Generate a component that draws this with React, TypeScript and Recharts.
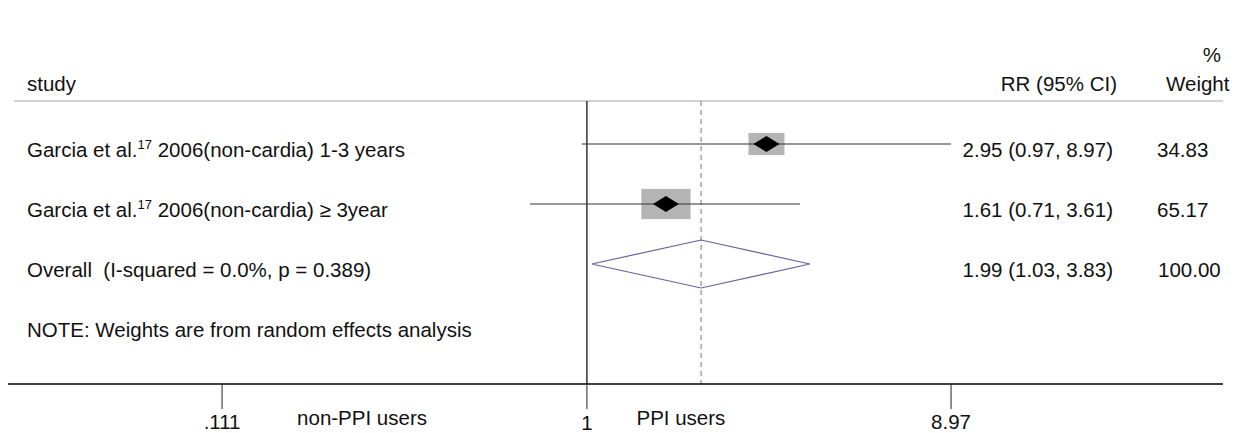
import React from "react";
import {ComposedChart, ReferenceLine, Scatter, XAxis, YAxis} from "recharts";

// studies (log RR forest plot)
const studyAuthors = ["Garcia et al.", "Garcia et al."];
const studyRefs = ["17", "17"];
const studyDetails = [" 2006(non-cardia) 1-3 years", " 2006(non-cardia) \u2265 3year"];
const studyRR = [2.95, 1.61];
const studyLow = [0.97, 0.71];
const studyHigh = [8.97, 3.61];
const studyWeight = [34.83, 65.17];
const studyRRText = ["2.95 (0.97, 8.97)", "1.61 (0.71, 3.61)"];
const studyWeightText = ["34.83", "65.17"];

const overallLabel = "Overall  (I-squared = 0.0%, p = 0.389)";
const overallRR = 1.99;
const overallLow = 1.03;
const overallHigh = 3.83;
const overallRRText = "1.99 (1.03, 3.83)";
const overallWeightText = "100.00";
const noteText = "NOTE: Weights are from random effects analysis";

const headerLabels = ["study", "RR (95% CI)", "Weight", "%"];

const xTicks = [0.111, 1, 8.97];
const xTickLabels = [".111", "1", "8.97"];
const sideLabels = ["non-PPI users", "PPI users"];
const sideLabelAt = [0.258, 1.762];

const FONT = "'Liberation Sans', Arial, sans-serif";
const X_DOMAIN: [number, number] = [0.03056, 46.18];
const HEADER_LINE_Y = 1.283;
const AXIS_Y = 6;

const studyPoints = studyRR.map((rr, i) => ({x: rr, y: i + 2, w: studyWeight[i]}));

const diamondPoints = [
    {x: overallLow, y: 4},
    {x: overallRR, y: 3.6},
    {x: overallHigh, y: 4},
    {x: overallRR, y: 4.4},
    {x: overallLow, y: 4},
];

type TextRow = {x: number, y: number, kind: string, i: number};
const textRows: TextRow[] = [
    {x: 1, y: 0.417, kind: "pct", i: 0},
    {x: 1, y: 0.9, kind: "header", i: 0},
    ...studyRR.map((_, i) => ({x: 1, y: i + 2, kind: "study", i})),
    {x: 1, y: 4, kind: "overall", i: 0},
    {x: 1, y: 5, kind: "note", i: 0},
];

const sidePoints = sideLabels.map((s, i) => ({x: sideLabelAt[i], y: AXIS_Y, i}));

const txt = {fontFamily: FONT, fontSize: 20.5, fill: "#111", whiteSpace: "pre" as const};

const StudyMarker = (props: any) => {
    const {cx, cy, payload} = props;
    const s = Math.sqrt(payload.w);
    const bw = 6.1 * s;
    const bh = 3.75 * s;
    return (
        <g>
            <rect x={cx - bw / 2} y={cy - bh / 2} width={bw} height={bh} fill="#b4b4b4" />
            <line x1={cx - bw / 2} x2={cx + bw / 2} y1={cy} y2={cy} stroke="#333" />
            <polygon points={`${cx - 13},${cy} ${cx},${cy - 8} ${cx + 13},${cy} ${cx},${cy + 8}`} fill="#000" />
        </g>
    );
};

const TextLayer = (props: any) => {
    const {cy, payload} = props;
    const base = cy + 13;
    const r: TextRow = payload;
    if (r.kind === "pct") {
        return <text x={1221} y={base} textAnchor="end" style={txt}>{headerLabels[3]}</text>;
    }
    if (r.kind === "header") {
        return (
            <g>
                <text x={27} y={base} style={txt}>{headerLabels[0]}</text>
                <text x={1117} y={base} textAnchor="end" style={txt}>{headerLabels[1]}</text>
                <text x={1166} y={base} style={txt}>{headerLabels[2]}</text>
            </g>
        );
    }
    if (r.kind === "study") {
        return (
            <g>
                <text x={27} y={base} style={txt}>
                    {studyAuthors[r.i]}
                    <tspan fontSize={13} dy={-8}>{studyRefs[r.i]}</tspan>
                    <tspan dy={8}>{studyDetails[r.i]}</tspan>
                </text>
                <text x={1113} y={base} textAnchor="end" style={txt}>{studyRRText[r.i]}</text>
                <text x={1157} y={base} style={txt}>{studyWeightText[r.i]}</text>
            </g>
        );
    }
    if (r.kind === "overall") {
        return (
            <g>
                <text x={27} y={base} style={txt}>{overallLabel}</text>
                <text x={1113} y={base} textAnchor="end" style={txt}>{overallRRText}</text>
                <text x={1158} y={base} style={txt}>{overallWeightText}</text>
            </g>
        );
    }
    return <text x={27} y={base} style={txt}>{noteText}</text>;
};

const SideLabel = (props: any) => {
    const {cx, cy, payload} = props;
    return <text x={cx} y={cy + 41} textAnchor="middle" style={txt}>{sideLabels[payload.i]}</text>;
};

const AxisTick = (props: any) => {
    const {x, y, payload} = props;
    const i = xTicks.indexOf(payload.value);
    return (
        <g>
            <line x1={x} x2={x} y1={y} y2={y + 25} stroke="#222" />
            <text x={x} y={y + (payload.value === 1 ? 46 : 45)} textAnchor="middle" style={txt}>{xTickLabels[i]}</text>
        </g>
    );
};

const Empty = () => <g />;

export default function App() {
    return (
        <div style={{position: "absolute", left: 0, top: 0, width: 1234, height: 433, background: "#fff"}}>
            <ComposedChart width={1234} height={433} margin={{top: 24, right: 11, bottom: 0, left: 8}}>
                <XAxis
                    type="number"
                    dataKey="x"
                    scale="log"
                    domain={X_DOMAIN}
                    ticks={xTicks}
                    interval={0}
                    height={49}
                    tickSize={0}
                    tickMargin={0}
                    tickLine={false}
                    axisLine={{stroke: "#000", strokeWidth: 1.5}}
                    tick={<AxisTick />}
                />
                <YAxis type="number" dataKey="y" domain={[0, AXIS_Y]} reversed hide width={0} />
                <ReferenceLine segment={[{x: 0.0317, y: HEADER_LINE_Y}, {x: X_DOMAIN[1], y: HEADER_LINE_Y}]} stroke="#c4c4c4" strokeWidth={1.5} />
                <ReferenceLine segment={[{x: 1, y: HEADER_LINE_Y}, {x: 1, y: AXIS_Y}]} stroke="#000" strokeWidth={1.2} />
                <ReferenceLine segment={[{x: overallRR, y: HEADER_LINE_Y}, {x: overallRR, y: AXIS_Y}]} stroke="#b57d88" strokeDasharray="5 4" strokeWidth={1.2} />
                {studyRR.map((rr, i) => (
                    <ReferenceLine
                        key={`ci-${i}`}
                        segment={[{x: studyLow[i], y: i + 2}, {x: studyHigh[i], y: i + 2}]}
                        stroke="#333"
                        strokeWidth={1.2}
                    />
                ))}
                <Scatter data={studyPoints} shape={<StudyMarker />} isAnimationActive={false} />
                <Scatter
                    data={diamondPoints}
                    line={{stroke: "#62629c", strokeWidth: 1.2}}
                    lineType="joint"
                    shape={<Empty />}
                    fill="none"
                    isAnimationActive={false}
                />
                <Scatter data={textRows} shape={<TextLayer />} isAnimationActive={false} />
                <Scatter data={sidePoints} shape={<SideLabel />} isAnimationActive={false} />
            </ComposedChart>
        </div>
    );
}
